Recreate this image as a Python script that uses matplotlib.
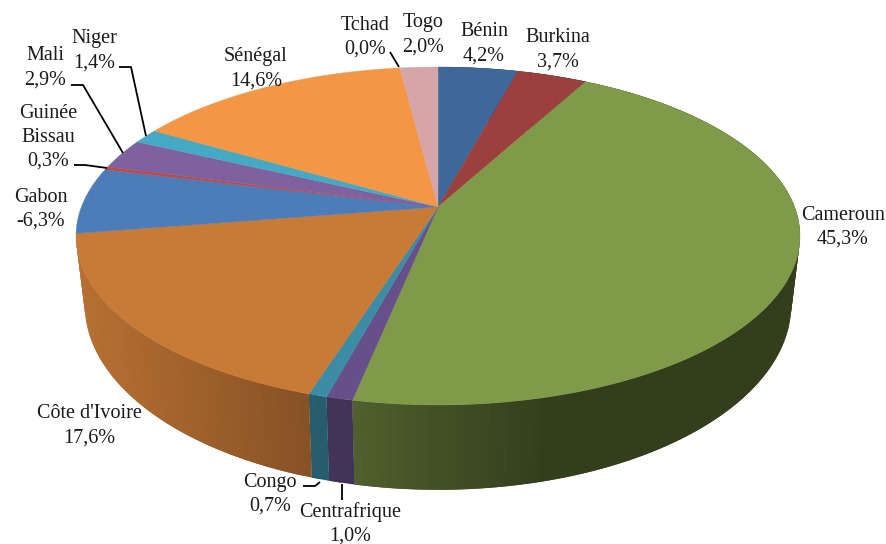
import numpy as np
import matplotlib
matplotlib.use('Agg')
import matplotlib.pyplot as plt
from matplotlib.collections import PolyCollection

# clockwise from 12 o'clock
pays = ['Bénin', 'Burkina', 'Cameroun', 'Centrafrique', 'Congo', "Côte d'Ivoire", 'Gabon',
        'Guinée\nBissau', 'Mali', 'Niger', 'Sénégal', 'Tchad', 'Togo']
parts = [4.2, 3.7, 45.3, 1.0, 0.7, 17.6, 6.3, 0.3, 2.9, 1.4, 14.6, 0.0, 2.0]
etiquettes = ['4,2%', '3,7%', '45,3%', '1,0%', '0,7%', '17,6%', '-6,3%', '0,3%', '2,9%', '1,4%', '14,6%', '0,0%', '2,0%']
couleurs = ['#3E6899', '#9B403E', '#7F9A48', '#67508A', '#3C8CA6', '#C87A37', '#4C7DB8',
            '#BC4B47', '#7F619F', '#46A9C4', '#F39645', '#BFBFBF', '#D6A5A7']

# where each label sits (centre of first line, px)
pos_txt = [(484, 32), (558, 38), (843, 215), (350, 512), (270, 482), (89, 414), (41, 197),
           (48, 113), (45, 56), (94, 39), (256, 57), (365, 25), (423, 23)]
# leader lines
traits = [[(119, 67), (131, 67), (146, 136)],
          [(71, 85), (83, 85), (123, 153)],
          [(74, 165), (85, 165), (107, 168)],
          [(390, 52), (399, 67)],
          [(303, 486), (315, 486), (320, 482)],
          [(342, 484), (342, 500)]]

k = 0.1716  # perspective of the disc


def haut(t):
    X, Y = np.sin(t), np.cos(t)
    w = 1 + k * Y
    return 438 + 356.6 * X / w, 207 - 164 * Y / w


def bas(t):
    X, Y = np.sin(t), np.cos(t)
    w = 1 + k * Y
    return 438 + 348 * X / w, 273 - 179.6 * Y / w


def ombre(x):  # side gets darker from left to right
    return np.interp(x, [75, 300, 355, 550, 800], [0.92, 0.68, 0.62, 0.40, 0.40])


fig = plt.figure(figsize=(8.87, 5.44), dpi=100)
ax = fig.add_axes([0, 0, 1, 1])
ax.set_xlim(0, 887)
ax.set_ylim(544, 0)
ax.axis('off')

bornes = np.concatenate([[0], np.cumsum(parts)]) / sum(parts) * 2 * np.pi

# sides first, only the ones facing us (back ones stay hidden by the top)
for i in range(6):
    n = max(3, int((bornes[i + 1] - bornes[i]) / 0.02))
    t = np.linspace(bornes[i], bornes[i + 1], n)
    xh, yh = haut(t)
    xb, yb = bas(t)
    base = np.array(matplotlib.colors.to_rgb(couleurs[i]))
    for j in range(n - 1):
        j2 = min(j + 2, n - 1)  # overlap the next strip so no seam shows
        q = [(xh[j], yh[j]), (xh[j2], yh[j2]), (xb[j2], yb[j2]), (xb[j], yb[j])]
        col = base * ombre((xh[j] + xh[j + 1]) / 2)
        ax.add_collection(PolyCollection([q], facecolors=[col], edgecolors='none', linewidths=0))

# top of the pie
for i in range(len(parts)):
    if parts[i] == 0:
        continue
    t = np.linspace(bornes[i], bornes[i + 1], 200)
    xh, yh = haut(t)
    ax.fill(np.r_[438, xh], np.r_[207, yh], color=couleurs[i], lw=0.3)

for tr in traits:
    ax.plot([p[0] for p in tr], [p[1] for p in tr], color='black', lw=1.3, solid_capstyle='butt')

for i in range(len(parts)):
    x, y = pos_txt[i]
    lignes = pays[i].split('\n') + [etiquettes[i]]
    for n, l in enumerate(lignes):
        ax.text(x, y + n * 24, l, ha='center', va='center', family='Liberation Serif',
                fontsize=14.5, color='#1A1A1A', clip_on=False)

fig.savefig('out.png', dpi=100)
